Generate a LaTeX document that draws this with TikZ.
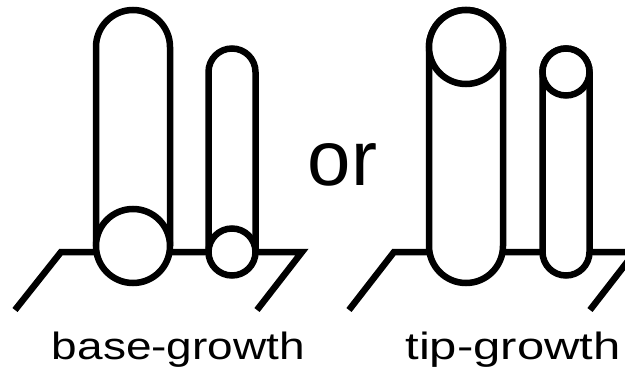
\documentclass[tikz,border=0pt]{standalone}
\usepackage{fontspec}
\usepackage{graphicx}
\setmainfont{Liberation Sans}
\begin{document}
\begin{tikzpicture}[x=1pt,y=-1pt,
  line width=6.5pt, line join=miter,
  tube/.style={draw=black, fill=white},
  ground/.style={draw=black},
  label/.style={font=\fontsize{38}{40}\selectfont, anchor=base, inner sep=0pt},
  bigword/.style={font=\fontsize{78}{80}\selectfont, anchor=base, inner sep=0pt}]
\useasboundingbox (0,0) rectangle (625,372);
\clip (0,0) rectangle (625,372);

% ---- base-growth: substrate plane ----
\draw[ground] (15,310) -- (61,252) -- (302,252) -- (257,310);
% large tube, round cap on top, open base circle at the substrate
\filldraw[tube] (96,246) -- (96,47) arc[start angle=180, end angle=360, radius=37] -- (170,246);
\filldraw[tube] (133,246) circle[radius=37];
% small tube
\filldraw[tube] (208.5,252) -- (208.5,72) arc[start angle=180, end angle=360, radius=23.5] -- (255.5,252);
\filldraw[tube] (232,252) circle[radius=23.5];

% ---- tip-growth: substrate plane ----
\draw[ground] (349,310) -- (394,252) -- (635,252) -- (590,310);
% large tube, round bottom, open circle at the tip
\filldraw[tube] (429,47) -- (429,246) arc[start angle=180, end angle=0, radius=37]
  -- (503,47) arc[start angle=0, end angle=-180, radius=37] -- cycle;
\filldraw[tube] (466,47) circle[radius=37];
% small tube
\filldraw[tube] (542.5,72) -- (542.5,252) arc[start angle=180, end angle=0, radius=23.5]
  -- (589.5,72) arc[start angle=0, end angle=-180, radius=23.5] -- cycle;
\filldraw[tube] (566,72) circle[radius=23.5];

% ---- labels ----
\node[bigword] (or) at (342.5,185) {or};
\node[label] (base) at (178.5,359) {\scalebox{1.21}[1]{base-growth}};
\node[label] (tip) at (513,359) {\scalebox{1.29}[1]{tip-growth}};
\end{tikzpicture}
\end{document}
